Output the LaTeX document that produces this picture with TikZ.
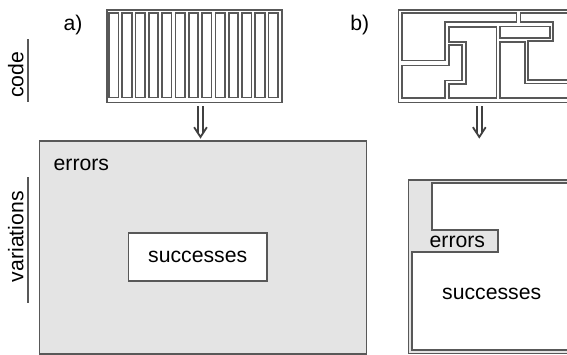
\documentclass[tikz,border=0pt]{standalone}
\usepackage{fontspec}
\setmainfont{Liberation Sans}
\definecolor{lc}{RGB}{88,88,88}
\definecolor{ef}{RGB}{228,228,228}
\begin{document}
\begin{tikzpicture}[x=0.5pt,y=-0.5pt,
  ln/.style={draw=lc, line width=0.85pt},
  boxnode/.style={ln, inner sep=0pt, anchor=north west},
  lbl/.style={font=\fontsize{10.6}{12.7}\selectfont, inner sep=0pt, text=black},
  rlbl/.style={lbl, rotate=90, anchor=base},
  axisline/.style={draw=lc, line width=1pt},
  shaft/.style={draw=black!75, line width=0.9pt},
  head/.style={draw=black!75, line width=0.9pt, line join=miter}]
\useasboundingbox (0,0) rectangle (567,354);
\clip (0,0) rectangle (567,354);

% ---------- side labels ----------
\node[rlbl] (tcode) at (23.3,75) {code};
\draw[axisline] (28,39) -- (28,102);
\node[rlbl] (tvar) at (23.3,236.7) {variations};
\draw[axisline] (28,177) -- (28,303);

% ---------- panel a ----------
\node[lbl, anchor=base west] (la) at (63.3,30.5) {a)};
\node[boxnode, minimum width=87.5pt, minimum height=46.2pt] (codeA) at (106,9.3) {};
\foreach \i in {0,...,12}
  \draw[ln] ({109+\i*13.3},13.3) rectangle ++(9.4,84.2);

\coordinate (arA1) at (200.5,106);
\coordinate (arA2) at (200.5,137);
\draw[shaft] ([xshift=-1.2pt]arA1) -- ([xshift=-1.2pt,yshift=1.9pt]arA2);
\draw[shaft] ([xshift=1.2pt]arA1) -- ([xshift=1.2pt,yshift=1.9pt]arA2);
\draw[head] ([xshift=-3.2pt,yshift=4.9pt]arA2) -- (arA2) -- ([xshift=3.2pt,yshift=4.9pt]arA2);

\node[boxnode, fill=ef, minimum width=163.5pt, minimum height=106.4pt] (bigA) at (38.7,140) {};
\node[lbl, anchor=base west] (errA) at (53.3,170) {errors};
\node[ln, fill=white, inner sep=0pt, minimum width=69.35pt, minimum height=24pt, lbl] (succA) at (197.7,257) {successes};

% ---------- panel b ----------
\node[lbl, anchor=base west] (lb) at (350,30.5) {b)};
\node[boxnode, minimum width=87.5pt, minimum height=46.2pt] (codeB) at (397.5,9.3) {};
% maze regions
\draw[ln] (401.7,13.3) -- (516.5,13.3) -- (516.5,22.3) -- (445.3,22.3) -- (445.3,60.5) -- (401.7,60.5) -- cycle;
\draw[ln] (520.5,13.3) -- (568,13.3) -- (568,80) -- (528,80) -- (528,41.3) -- (553,41.3) -- (553,22.3) -- (520.5,22.3) -- cycle;
\draw[ln] (448.7,27.3) -- (496.5,27.3) -- (496.5,98.3) -- (449,98.3) -- (449,83.8) -- (465.7,83.8) -- (465.7,41.8) -- (448.7,41.8) -- cycle;
\draw[ln] (401.7,65.5) -- (449,65.5) -- (449,45) -- (462,45) -- (462,80.5) -- (445,80.5) -- (445,98.3) -- (401.7,98.3) -- cycle;
\draw[ln] (500,26.5) rectangle (550,38);
\draw[ln] (500,42) -- (525,42) -- (525,83.5) -- (568,83.5) -- (568,98.3) -- (500,98.3) -- cycle;

\coordinate (arB1) at (479.3,106);
\coordinate (arB2) at (479.3,137);
\draw[shaft] ([xshift=-1.2pt]arB1) -- ([xshift=-1.2pt,yshift=1.9pt]arB2);
\draw[shaft] ([xshift=1.2pt]arB1) -- ([xshift=1.2pt,yshift=1.9pt]arB2);
\draw[head] ([xshift=-3.2pt,yshift=4.9pt]arB2) -- (arB2) -- ([xshift=3.2pt,yshift=4.9pt]arB2);

\node[boxnode, fill=ef, minimum width=163.5pt, minimum height=86.7pt] (bigB) at (407.7,179.3) {};
\draw[ln, fill=white] (431.7,183) -- (580,183) -- (580,350) -- (411.8,350) -- (411.8,251.7) -- (498.3,251.7) -- (498.3,230) -- (431.7,230) -- cycle;
\node[lbl, anchor=base west] (errB) at (429.3,247.5) {errors};
\node[lbl, anchor=base] (succB) at (491.7,299.3) {successes};
\end{tikzpicture}
\end{document}
